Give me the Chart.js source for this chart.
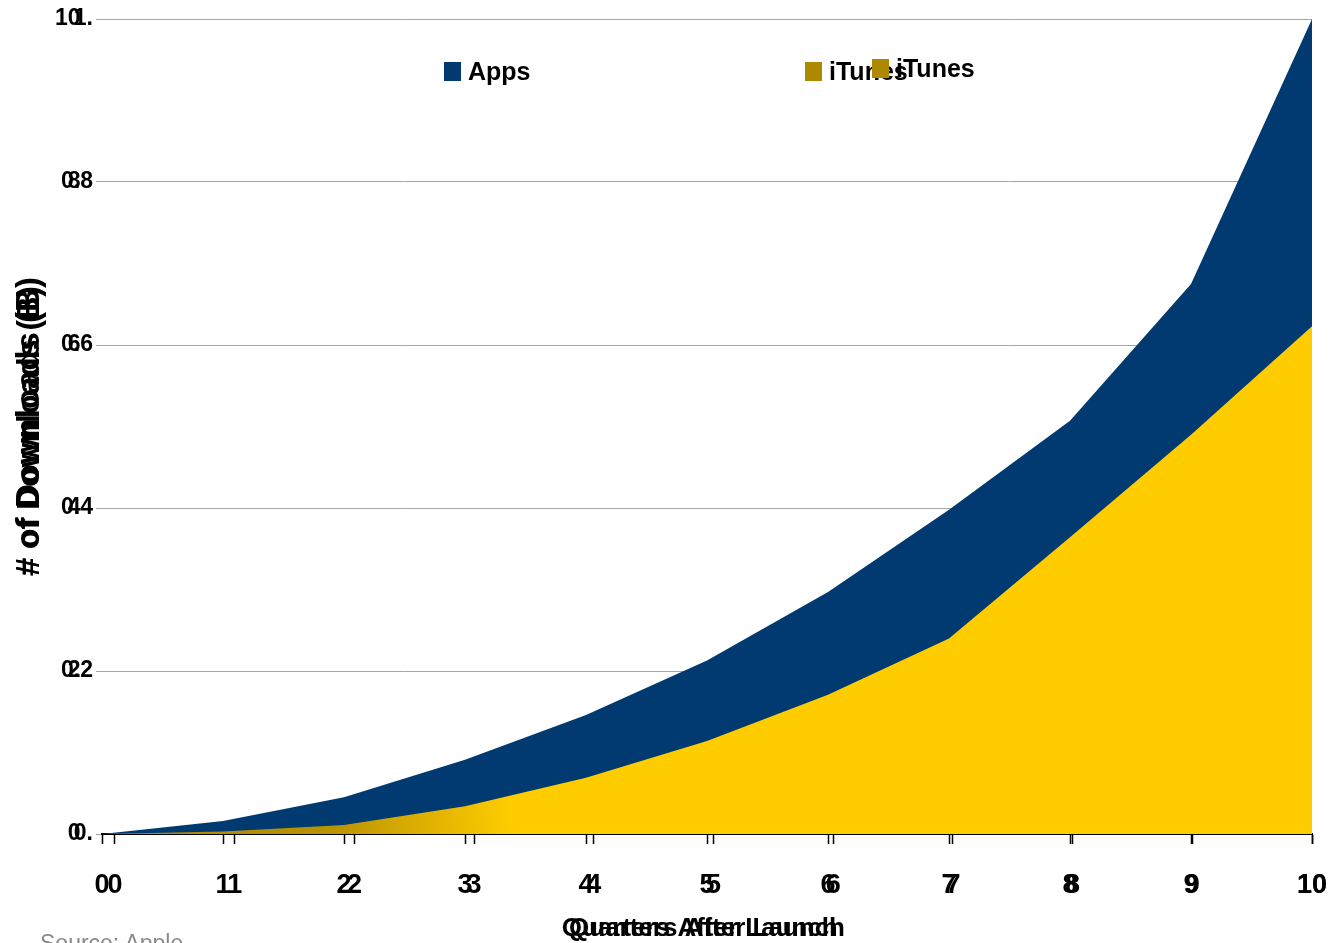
<!DOCTYPE html>
<html>
<head>
<meta charset="utf-8">
<script src="https://cdn.jsdelivr.net/npm/chart.js@4/dist/chart.umd.min.js"></script>
<style>
  html, body { margin: 0; padding: 0; background: #fff; overflow: hidden; }
  #wrap { position: relative; width: 1341px; height: 943px; }
  .legend-item { position: absolute; display: flex; align-items: flex-end;
    font: bold 25px 'Liberation Sans', Arial, sans-serif; line-height: 28px; color: #000; white-space: nowrap; }
  .legend-box { width: 17px; height: 19px; margin-right: 7px; margin-bottom: 4px; }
  #source { position: absolute; left: 40px; top: 932px; font: 23px 'Liberation Sans', Arial, sans-serif;
    line-height: 23px; color: #8a8a8a; white-space: nowrap; }
</style>
</head>
<body>
<div id="wrap">
  <canvas id="downloadsChart"></canvas>
  <div id="legend"></div>
  <div id="source">Source: Apple</div>
</div>
<script>
// quarters after launch
const quarters = [0, 1, 2, 3, 4, 5, 6, 7, 8, 9, 10];
// cumulative downloads, billions
const appsValues = [0, 0.016, 0.045, 0.091, 0.146, 0.213, 0.297, 0.398, 0.507, 0.675, 1.0];
const itunesValues = [0, 0.003, 0.011, 0.034, 0.069, 0.114, 0.171, 0.240, 0.364, 0.490, 0.623];
// y tick values and the two overlapping label sets seen on the axis
const yTicks = [0, 0.2, 0.4, 0.6, 0.8, 1.0];
const yLabelsA = ['0.', '0.2', '0.4', '0.6', '0.8', '1.'];
const yLabelsB = ['0', '2', '4', '6', '8', '10'];
const seriesNames = ['Apps', 'iTunes'];

const NAVY = '#013a70';
const YELLOW = '#ffcc00';
const OLIVE = '#a8870a';
const fontFamily = "'Liberation Sans', Arial, sans-serif";

const toPoints = vals => quarters.map((q, i) => ({ x: q, y: vals[i] }));

const itunesFill = (context) => {
    const { chart } = context;
    const area = chart.chartArea;
    if (!area) return YELLOW;
    const g = chart.ctx.createLinearGradient(area.left, area.bottom, 510, area.bottom - 30);
    g.addColorStop(0, OLIVE);
    g.addColorStop(0.55, '#b89200');
    g.addColorStop(1, YELLOW);
    return g;
};

const tickFont = { family: fontFamily, size: 27, weight: 'bold' };
const yTickFont = { family: fontFamily, size: 23, weight: 'bold' };

const ctx = document.getElementById('downloadsChart').getContext('2d');
const chart = new Chart(ctx, {
    type: 'line',
    data: {
        datasets: [{
            label: seriesNames[0],
            data: toPoints(appsValues),
            backgroundColor: NAVY,
            borderWidth: 0,
            pointRadius: 0,
            fill: 'origin',
            order: 2
        }, {
            label: seriesNames[1],
            data: toPoints(itunesValues),
            backgroundColor: itunesFill,
            borderWidth: 0,
            pointRadius: 0,
            fill: 'origin',
            order: 1
        }]
    },
    options: {
        responsive: true,
        maintainAspectRatio: false,
        animation: false,
        layout: { autoPadding: false, padding: { top: 19, right: 29, left: 0, bottom: 0 } },
        plugins: {
            legend: { display: false },
            tooltip: { enabled: false }
        },
        scales: {
            x: {
                type: 'linear',
                min: 0,
                max: 10,
                afterBuildTicks: scale => { scale.ticks = quarters.map(v => ({ value: v })); },
                afterFit: scale => { scale.height = 109; },
                ticks: { color: '#000', font: tickFont, mirror: true, padding: -67.4, maxRotation: 0, callback: v => String(v) },
                grid: { drawOnChartArea: false, tickLength: 10, color: '#000', tickWidth: 1.5 },
                border: { color: '#000', width: 2 },
                title: { display: true, text: 'Quarters After Launch  ', color: '#000',
                    font: { family: fontFamily, size: 26, weight: 'bold' }, padding: { top: 0, bottom: -1.4 } }
            },
            x2: {
                type: 'linear',
                position: 'bottom',
                weight: -1,
                min: -0.1086,
                max: 10,
                afterBuildTicks: scale => { scale.ticks = quarters.map(v => ({ value: v })); },
                afterFit: scale => { scale.height = 0; },
                ticks: { color: '#000', font: tickFont, mirror: true, padding: -67.4, maxRotation: 0, callback: v => String(v) },
                grid: { drawOnChartArea: false, tickLength: 10, color: '#000', tickWidth: 1.5 },
                border: { display: false },
                title: { display: true, text: 'Quarters After Launch', color: '#000',
                    font: { family: fontFamily, size: 26, weight: 'bold' }, padding: { top: 0, bottom: -110.4 } }
            },
            y: {
                min: 0,
                max: 1,
                afterBuildTicks: scale => { scale.ticks = yTicks.map(v => ({ value: v })); },
                afterFit: scale => { scale.width = 102; },
                ticks: { color: '#000', font: yTickFont, padding: 3,
                    callback: (v, i) => yLabelsA[i] },
                grid: { color: '#a6a6a6', lineWidth: 1, tickLength: 6 },
                border: { display: false },
                title: { display: true, text: '# of Downloads (B)', color: '#000',
                    font: { family: fontFamily, size: 33, weight: 'bold' }, padding: { top: 10, bottom: 0 } }
            },
            y2: {
                position: 'left',
                weight: -1,
                min: 0,
                max: 1,
                afterBuildTicks: scale => { scale.ticks = yTicks.map(v => ({ value: v })); },
                afterFit: scale => { scale.width = 0; },
                ticks: { color: '#000', font: yTickFont, mirror: true, crossAlign: 'far', padding: -47,
                    callback: (v, i) => yLabelsB[i] },
                grid: { display: false },
                border: { display: false },
                title: { display: true, text: '# of Downloads (B) ', color: '#000',
                    font: { family: fontFamily, size: 32, weight: 'bold' }, padding: { top: -91, bottom: 0 } }
            }
        }
    }
});

// HTML legend built from the datasets (second iTunes entry repeats as in the source image)
const legendSpots = [
    { ds: 0, left: 444, top: 57 },
    { ds: 1, left: 805, top: 57 },
    { ds: 1, left: 872, top: 54 }
];
const legendColors = [NAVY, '#ae8900'];
const legendEl = document.getElementById('legend');
legendSpots.forEach(spot => {
    const item = document.createElement('div');
    item.className = 'legend-item';
    item.style.left = spot.left + 'px';
    item.style.top = spot.top + 'px';
    const box = document.createElement('span');
    box.className = 'legend-box';
    box.style.background = legendColors[spot.ds];
    item.appendChild(box);
    item.appendChild(document.createTextNode(chart.data.datasets[spot.ds].label));
    legendEl.appendChild(item);
});
</script>
</body>
</html>
